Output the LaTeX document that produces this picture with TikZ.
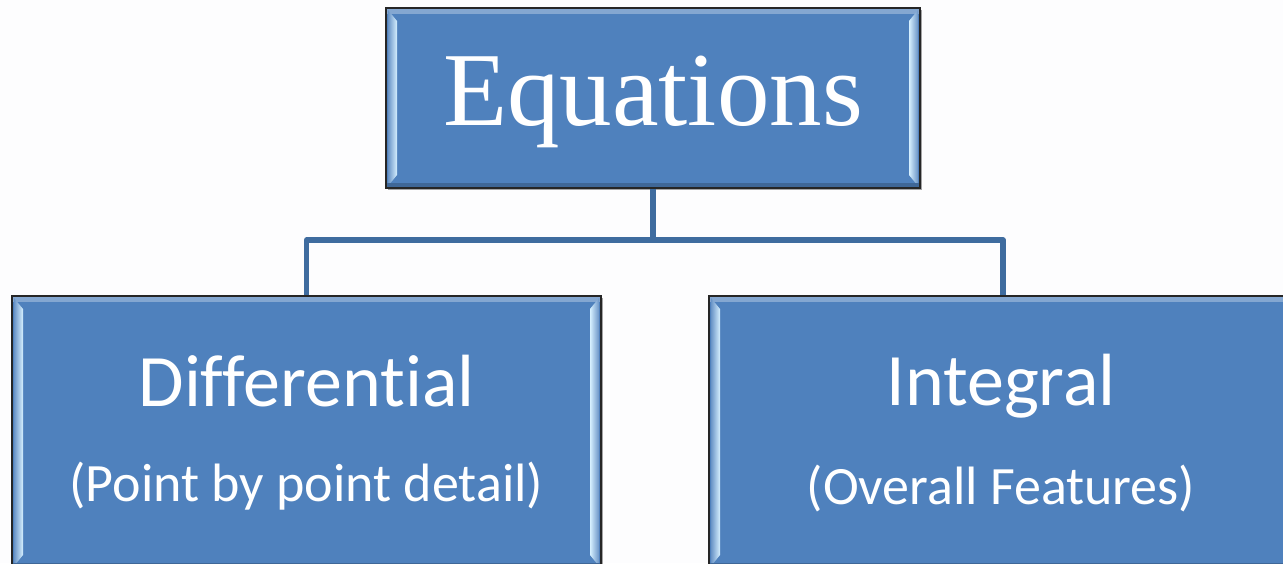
\documentclass[tikz,border=0pt]{standalone}
\usepackage{fontspec}
\setmainfont{Liberation Serif}
\newfontfamily\sansf[Ligatures=NoCommon]{Carlito}
\usetikzlibrary{calc,shadows}
\definecolor{boxblue}{HTML}{4F81BD}
\definecolor{linkblue}{HTML}{3F6C9F}
\definecolor{hilite}{HTML}{D6F0FF}
\definecolor{bgtint}{HTML}{FDFDFE}
\tikzset{
  box/.style={draw=black!85, line width=1pt, fill=boxblue, inner sep=0pt,
    drop shadow={shadow xshift=0.8pt, shadow yshift=-0.8pt, opacity=0.35, fill=black}},
  link/.style={draw=linkblue, line width=2.6pt},
  lbl/.style={text=white, inner sep=0pt, anchor=base},
  bigserif/.style={lbl, font=\fontsize{52.5}{60}\selectfont},
  head/.style={lbl, font=\sansf\fontsize{37}{44}\selectfont},
  sub/.style={lbl, font=\sansf\fontsize{27}{32}\selectfont}
}
\newcommand{\bevel}[1]{%
  \fill[boxblue!70!white] ($(#1.north west)+(2,2)$) rectangle ($(#1.north east)+(-2,7)$);
  \shade[left color=boxblue!85!white, right color=hilite]
    ($(#1.north west)+(3,3)$) -- ($(#1.north west)+(12,14)$) -- ($(#1.south west)+(12,-14)$) -- ($(#1.south west)+(3,-3)$) -- cycle;
  \shade[left color=hilite, right color=boxblue!85!white]
    ($(#1.north east)+(-3,3)$) -- ($(#1.north east)+(-12,14)$) -- ($(#1.south east)+(-12,-14)$) -- ($(#1.south east)+(-3,-3)$) -- cycle;
  \fill[boxblue!80!black] ($(#1.south west)+(2,-2)$) rectangle ($(#1.south east)+(-2,-6)$);
}
\begin{document}
\begin{tikzpicture}[x=0.5pt,y=-0.5pt]
\useasboundingbox (0,0) rectangle (1283,563);
\clip (0,0) rectangle (1283,563);
\fill[bgtint] (0,0) rectangle (1283,563);

\node[box, minimum width=267pt, minimum height=90pt] (top) at (653,98) {};
\node[box, minimum width=294.5pt, minimum height=136pt] (left) at (306.5,432) {};
\node[box, minimum width=294pt, minimum height=136pt] (right) at (1003,432) {};

\bevel{top}
\bevel{left}
\bevel{right}

\node[bigserif] (eq) at (653,125) {Equations};
\node[head] (dif) at (306.5,406) {Differential};
\node[sub] (difs) at (306.5,501) {(Point by point detail)};
\node[head] (int) at (1001,405) {Integral};
\node[sub] (ints) at (1001,504) {(Overall Features)};

\coordinate (j) at (653,240);
\draw[link] (top.south) -- (j);
\draw[link, line join=round] (j) -| (left.north);
\draw[link, line join=round] (j) -| (right.north);
\end{tikzpicture}
\end{document}
